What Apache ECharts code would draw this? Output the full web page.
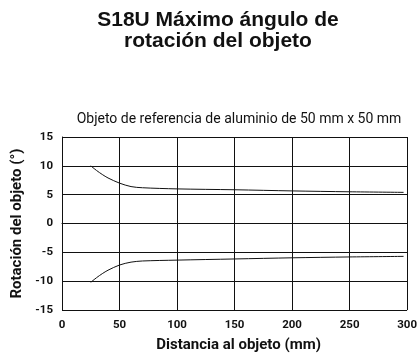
<!DOCTYPE html>
<html><head><meta charset="utf-8">
<script src="https://cdn.jsdelivr.net/npm/echarts@6/dist/echarts.min.js"></script>
<style>html,body{margin:0;padding:0;background:#fff}#c{width:420px;height:358px}</style>
</head><body><div id="c"></div>
<script>
const distances = [25, 30, 35, 40, 50, 60, 70, 100, 150, 200, 250, 297];
const upperRotation = [10, 9.2, 8.5, 7.9, 7.0, 6.4, 6.2, 6.0, 5.85, 5.65, 5.5, 5.4];
const lowerRotation = [-10.2, -9.4, -8.7, -8.1, -7.2, -6.7, -6.5, -6.35, -6.15, -5.95, -5.8, -5.7];
const xTicks = [0, 50, 100, 150, 200, 250, 300];
const yTicks = [-15, -10, -5, 0, 5, 10, 15];

const chart = echarts.init(document.getElementById('c'));
const body = 'Roboto, "Liberation Sans", sans-serif';
chart.setOption({
  animation: false,
  title: [{
    text: 'S18U Máximo ángulo de\nrotación del objeto',
    left: 213, top: 5, textAlign: 'center',
    textStyle: {fontFamily: '"Liberation Sans", Arial, sans-serif', fontWeight: 'bold', fontSize: 21, lineHeight: 21, color: '#111'}
  }, {
    text: 'Objeto de referencia de aluminio de 50 mm x 50 mm',
    left: 234, top: 107, textAlign: 'center',
    textStyle: {fontFamily: body, fontWeight: 'normal', fontSize: 14, color: '#111'}
  }],
  grid: {left: 62, top: 137, right: 11, bottom: 48},
  xAxis: {
    type: 'value', min: 0, max: 300, interval: 50,
    name: 'Distancia al objeto (mm)', nameLocation: 'middle', nameGap: 28,
    nameTextStyle: {fontFamily: body, fontWeight: 'bold', fontSize: 15, color: '#111', padding: [0, 0, 0, 8]},
    axisLine: {show: true, lineStyle: {color: '#111', width: 1}},
    axisTick: {show: false},
    axisLabel: {fontFamily: body, fontWeight: 'bold', fontSize: 11.5, color: '#111', margin: 9,
      formatter: v => xTicks.includes(v) ? String(v) : ''},
    splitLine: {show: true, lineStyle: {color: '#111', width: 1}}
  },
  yAxis: {
    type: 'value', min: -15, max: 15, interval: 5,
    name: 'Rotación del objeto (°)', nameLocation: 'middle', nameGap: 37,
    nameTextStyle: {fontFamily: body, fontWeight: 'bold', fontSize: 15, color: '#111'},
    axisLine: {show: true, lineStyle: {color: '#111', width: 1}},
    axisTick: {show: false},
    axisLabel: {fontFamily: body, fontWeight: 'bold', fontSize: 11.5, color: '#111', margin: 9,
      formatter: v => yTicks.includes(v) ? String(v) : ''},
    splitLine: {show: true, lineStyle: {color: '#111', width: 1}}
  },
  series: [{
    type: 'line', data: distances.map((d, i) => [d, upperRotation[i]]),
    smooth: 0.3, showSymbol: false, lineStyle: {color: '#111', width: 1}
  }, {
    type: 'line', data: distances.map((d, i) => [d, lowerRotation[i]]),
    smooth: 0.3, showSymbol: false, lineStyle: {color: '#111', width: 1}
  }]
});
</script></body></html>
